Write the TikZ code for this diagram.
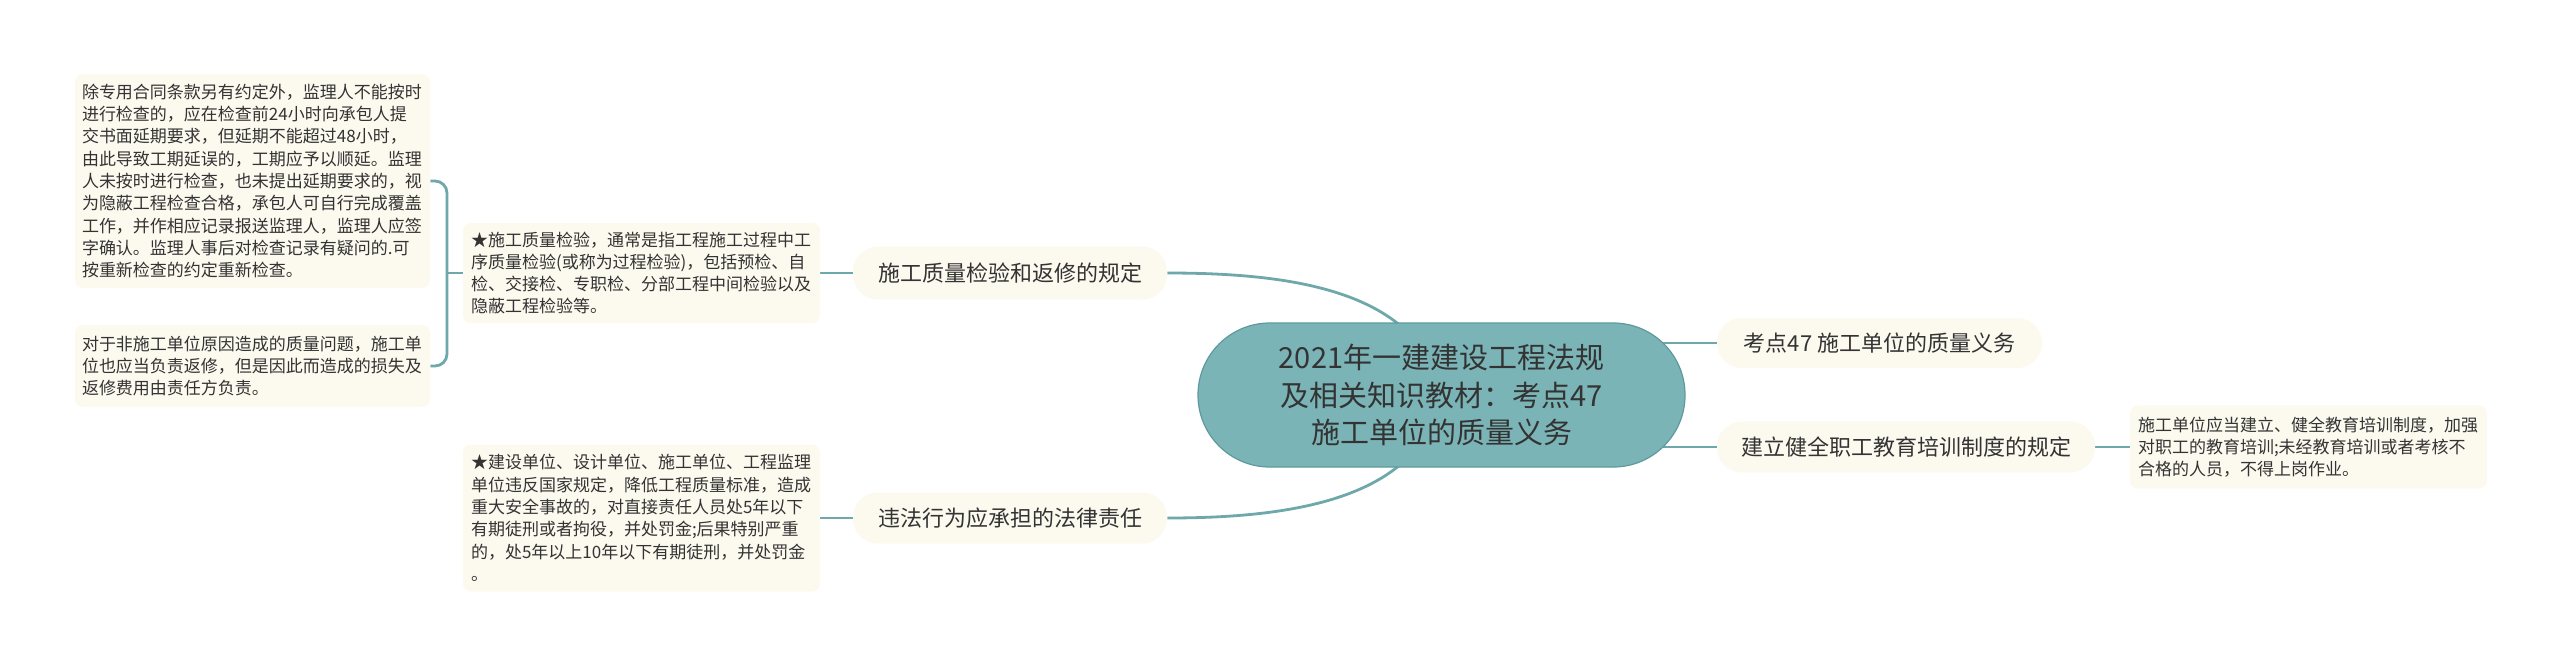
\documentclass[tikz,border=0pt]{standalone}
\usepackage{fontspec}
\setmainfont{Noto Sans CJK SC}
\usetikzlibrary{backgrounds}
\definecolor{connc}{HTML}{6FA8AB}
\definecolor{rootfill}{HTML}{7BB4B6}
\definecolor{rootdraw}{HTML}{5E9A9D}
\definecolor{boxfill}{HTML}{FCF9EF}
\definecolor{txt}{HTML}{333333}
\begin{document}
\begin{tikzpicture}[x=0.5pt,y=-0.5pt,
  conn/.style={draw=connc, line width=1.4pt},
  rootnode/.style={rectangle, rounded corners=35.9pt, fill=rootfill, draw=rootdraw, line width=0.6pt,
    minimum width=243.5pt, minimum height=72pt, inner sep=0pt, align=center, text=txt,
    font=\fontsize{14.5}{18.75}\selectfont},
  branch/.style={rectangle, rounded corners=12.4pt, fill=boxfill, inner sep=0pt, text=txt,
    font=\fontsize{11}{13}\selectfont},
  leaf/.style={rectangle, rounded corners=4pt, fill=boxfill, inner xsep=4pt, inner ysep=0pt,
    text width=170.5pt, align=left, text=txt, font=\fontsize{8.5}{11.15}\selectfont},
  leafb/.style={leaf, inner xsep=3.5pt}
]
\useasboundingbox (0,0) rectangle (2560,665);

% nodes
\node[rootnode] (root) at (1441.5,395) {2021年一建建设工程法规\\及相关知识教材：考点47\\施工单位的质量义务};
\node[branch, minimum width=157pt, minimum height=26.5pt] (b1) at (1010,273) {施工质量检验和返修的规定};
\node[branch, minimum width=157pt, minimum height=25.5pt] (b2) at (1010,518) {违法行为应承担的法律责任};
\node[branch, minimum width=162.5pt, minimum height=25pt] (rb1) at (1879.5,343) {考点47 施工单位的质量义务};
\node[branch, minimum width=189pt, minimum height=25.5pt] (rb2) at (1906,447) {建立健全职工教育培训制度的规定};

\node[leaf, minimum height=50pt] (l1) at (641.5,273) {★施工质量检验，通常是指工程施工过程中工\\序质量检验(或称为过程检验)，包括预检、自\\检、交接检、专职检、分部工程中间检验以及\\隐蔽工程检验等。};
\node[leaf, minimum height=73.5pt] (l2) at (641.5,518) {★建设单位、设计单位、施工单位、工程监理\\单位违反国家规定，降低工程质量标准，造成\\重大安全事故的，对直接责任人员处5年以下\\有期徒刑或者拘役，并处罚金;后果特别严重\\的，处5年以上10年以下有期徒刑，并处罚金\\。};
\node[leafb, minimum height=107pt] (l1a) at (252.5,181) {除专用合同条款另有约定外，监理人不能按时\\进行检查的，应在检查前24小时向承包人提\\交书面延期要求，但延期不能超过48小时，\\由此导致工期延误的，工期应予以顺延。监理\\人未按时进行检查，也未提出延期要求的，视\\为隐蔽工程检查合格，承包人可自行完成覆盖\\工作，并作相应记录报送监理人，监理人应签\\字确认。监理人事后对检查记录有疑问的.可\\按重新检查的约定重新检查。};
\node[leafb, minimum height=41pt] (l1b) at (252.5,366) {对于非施工单位原因造成的质量问题，施工单\\位也应当负责返修，但是因此而造成的损失及\\返修费用由责任方负责。};
\node[leaf, minimum height=41.5pt] (rl) at (2308.5,447) {施工单位应当建立、健全教育培训制度，加强\\对职工的教育培训;未经教育培训或者考核不\\合格的人员，不得上岗作业。};

\coordinate (bk) at (447,273);

\begin{scope}[on background layer]
\fill[white] (0,0) rectangle (2560,665);
\draw[conn] (b1.east) .. controls +(123,0) and ([shift={(-21,-105)}]root.center) .. (root.center);
\draw[conn] (b2.east) .. controls +(123,0) and ([shift={(-21,105)}]root.center) .. (root.center);
\draw[conn] (root.center |- rb1.west) -- (rb1.west);
\draw[conn] (root.center |- rb2.west) -- (rb2.west);
\draw[conn] (rb2.east) -- (rl.west);
\draw[conn] (l1.east) -- (b1.west);
\draw[conn] (l2.east) -- (b2.west);
\draw[conn, rounded corners=6pt] (l1a.east) -| (bk) |- (l1b.east);
\draw[conn] (bk) -- (l1.west);
\end{scope}
\end{tikzpicture}
\end{document}
